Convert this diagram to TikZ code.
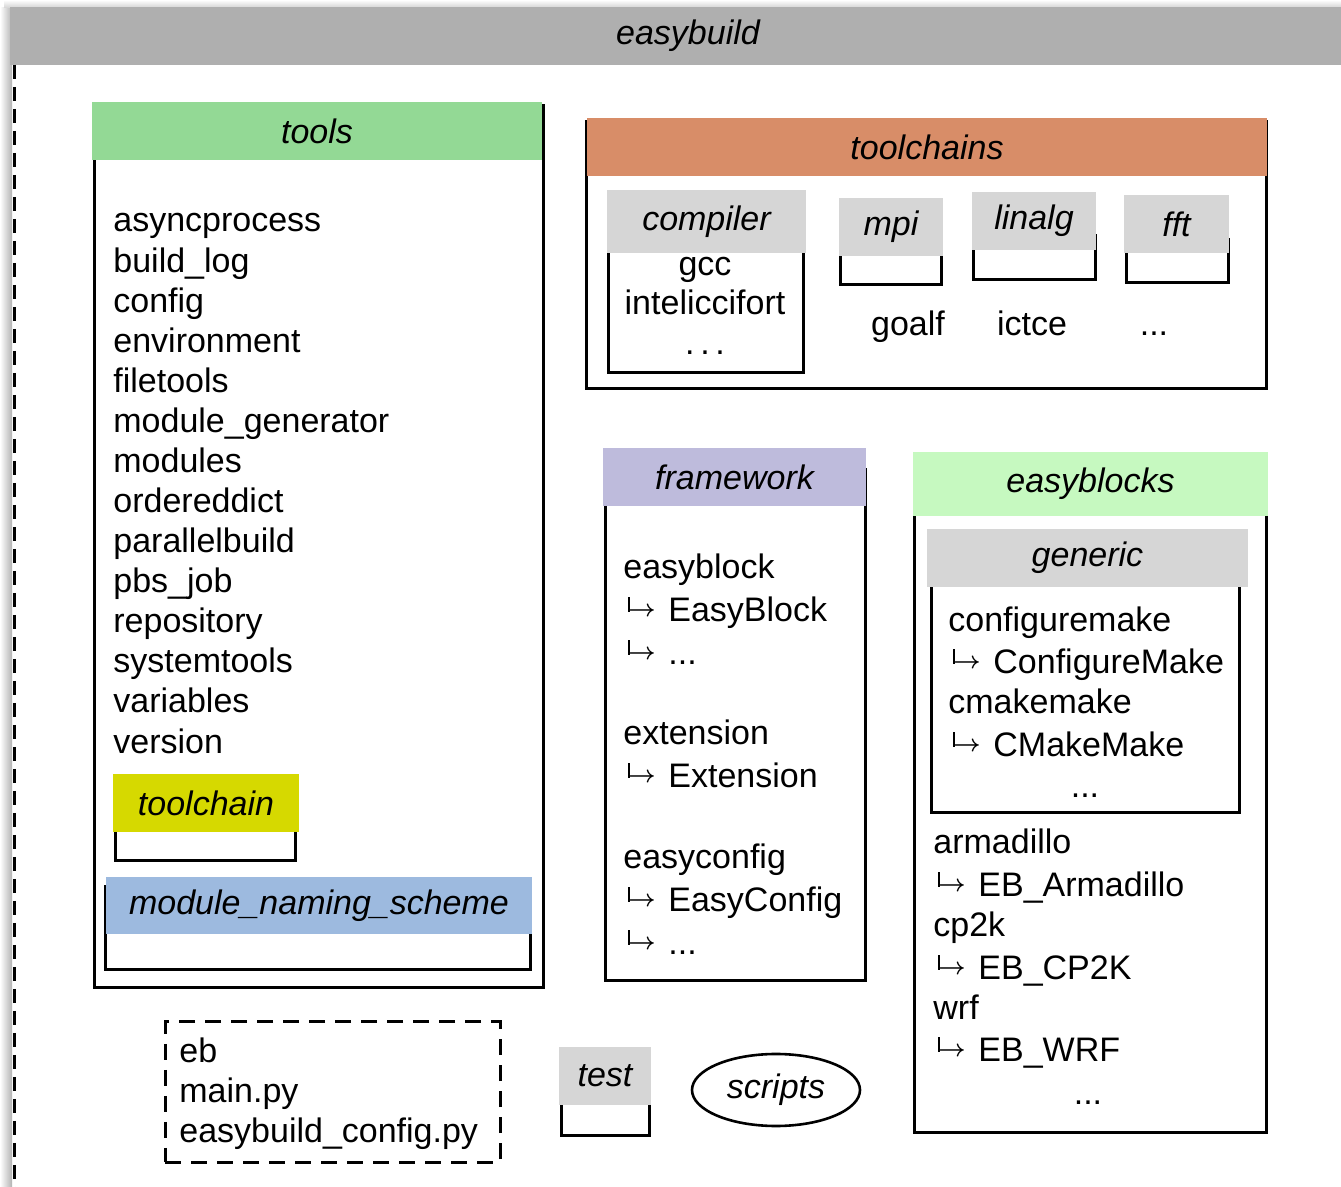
\documentclass[tikz,border=0pt]{standalone}
\usepackage{fontspec}
\usepackage{graphicx}
\setmainfont{Liberation Sans}
\usetikzlibrary{fit,shapes.geometric}
\definecolor{cBar}{HTML}{AFAFAF}
\definecolor{cTools}{HTML}{93D995}
\definecolor{cChains}{HTML}{D88D68}
\definecolor{cFrame}{HTML}{BEBBDC}
\definecolor{cBlocks}{HTML}{C6F9C0}
\definecolor{cSub}{HTML}{D6D6D6}
\definecolor{cYel}{HTML}{D6D900}
\definecolor{cBlue}{HTML}{9DBADF}
\newcommand{\fs}{\fontsize{17}{20}\selectfont}
\newcommand{\subarr}{\makebox[22.5pt][l]{\hspace{2.4pt}\rule[5.2pt]{0.8pt}{7.2pt}\kern-0.9pt\raisebox{2.5pt}{\fontsize{12.5}{14}\selectfont\boldmath$\rightarrow$}}}
\begin{document}
\begin{tikzpicture}[x=0.5pt,y=-0.5pt,
  hd/.style={inner sep=0pt, outer sep=0pt, label={[font=\fs\itshape, inner sep=0pt]center:#1}},
  bd/.style={draw, line width=1.5pt, inner sep=0pt, outer sep=0pt},
  dbox/.style={draw, line width=1.5pt, inner sep=0pt, outer sep=0pt, dash pattern=on 8pt off 5pt},
  ln/.style={anchor=base west, inner sep=0pt, font=\fs},
  lc/.style={anchor=base, inner sep=0pt, font=\fs},
  dline/.style={line width=1.5pt, dash pattern=on 7pt off 4pt},
]
\useasboundingbox (0,0) rectangle (1341,1187);
% shadow
\shade[left color=white, right color=black!30] (0,8) rectangle (12,1187);
\shade[top color=white, bottom color=black!18] (4,0) rectangle (1341,8);
% outer frame
\node[hd=easybuild, fill=cBar, fit={(10,7)(1366,65)}] (ebH) {};
\coordinate (dl1) at (14,65);
\coordinate (dl2) at (14,1187);
\draw[dline] (dl1) -- (dl2);

% tools
\node[bd, fit={(94,106)(543,988)}] (toolsB) {};
\node[hd=tools, fill=cTools, fit={(92,102)(542,160)}] (toolsH) {};
\foreach \t [count=\i from 0] in {asyncprocess, build\_log, config, environment, filetools, module\_generator, modules, ordereddict, parallelbuild, pbs\_job, repository, systemtools, variables, version}
  \node[ln] (tl\i) at (113, {232+40.08*\i}) {\t};
\node[bd, fit={(115,820)(295,861)}] (tcB) {};
\node[hd=toolchain, fill=cYel, fit={(113,774)(299,832)}] (tcH) {};
\node[bd, fit={(105,887)(530,970)}] (mnsB) {};
\node[hd=module\_naming\_scheme, fill=cBlue, fit={(106,877)(532,934)}] (mnsH) {};

% toolchains
\node[bd, fit={(586,122)(1266,389)}] (tchB) {};
\node[hd=toolchains, fill=cChains, fit={(587,118)(1267,176)}] (tchH) {};
\node[bd, fit={(608,240)(803,373)}] (compB) {};
\node[hd=compiler, fill=cSub, fit={(607,190)(806,253)}] (compH) {};
\node[lc] (gcc) at (705,276) {gcc};
\node[lc] (icc) at (705,315) {inteliccifort};
\node[lc] (cdots) at (705,355) {.\,.\,.};
\node[bd, fit={(840,240)(941,285)}] (mpiB) {};
\node[hd=mpi, fill=cSub, fit={(839,198)(943,256)}] (mpiH) {};
\node[bd, fit={(973,236)(1095,280)}] (linB) {};
\node[hd=linalg, fill=cSub, fit={(972,192)(1096,250)}] (linH) {};
\node[bd, fit={(1126,240)(1228,283)}] (fftB) {};
\node[hd=fft, fill=cSub, fit={(1124,195)(1229,253)}] (fftH) {};
\node[lc] (goalf) at (908,336) {goalf};
\node[lc] (ictce) at (1032,336) {ictce};
\node[lc] (tdots) at (1154,336) {...};

% framework
\node[bd, fit={(605,470)(865,981)}] (fwB) {};
\node[hd=framework, fill=cFrame, fit={(603,448)(866,506)}] (fwH) {};
\node[ln] (fw1) at (623,579) {easyblock};
\node[ln] (fw2) at (623,622) {\subarr EasyBlock};
\node[ln] (fw3) at (623,665) {\subarr ...};
\node[ln] (fw4) at (623,745) {extension};
\node[ln] (fw5) at (623,788) {\subarr Extension};
\node[ln] (fw6) at (623,869) {easyconfig};
\node[ln] (fw7) at (623,912) {\subarr EasyConfig};
\node[ln] (fw8) at (623,955) {\subarr ...};

% easyblocks
\node[bd, fit={(914,480)(1266,1132)}] (ebkB) {};
\node[hd=easyblocks, fill=cBlocks, fit={(913,452)(1268,516)}] (ebkH) {};
\node[bd, fit={(931,560)(1239,813)}] (genB) {};
\node[hd=generic, fill=cSub, fit={(927,529)(1248,587)}] (genH) {};
\node[ln] (g1) at (948,632) {configuremake};
\node[ln] (g2) at (948,674) {\subarr ConfigureMake};
\node[ln] (g3) at (948,714) {cmakemake};
\node[ln] (g4) at (948,757) {\subarr CMakeMake};
\node[lc] (g5) at (1085,798) {...};
\node[ln] (e1) at (933,854) {armadillo};
\node[ln] (e2) at (933,897) {\subarr EB\_Armadillo};
\node[ln] (e3) at (933,937) {cp2k};
\node[ln] (e4) at (933,980) {\subarr EB\_CP2K};
\node[ln] (e5) at (933,1020) {wrf};
\node[ln] (e6) at (933,1062) {\subarr EB\_WRF};
\node[lc] (e7) at (1088,1104) {...};

% bottom
\node[dbox, fit={(165,1022)(500,1162)}] (mainB) {};
\node[ln] (m1) at (179,1063) {eb};
\node[ln] (m2) at (179,1102) {main.py};
\node[ln] (m3) at (179,1142) {easybuild\_config.py};
\node[bd, fit={(561,1090)(649,1135)}] (testB) {};
\node[hd=test, fill=cSub, fit={(559,1047)(651,1105)}] (testH) {};
\node[draw, ellipse, line width=1.3pt, minimum width=84pt, minimum height=36pt, inner sep=0pt, font=\fs\itshape] (scripts) at (776,1090) {scripts};
\end{tikzpicture}
\end{document}
